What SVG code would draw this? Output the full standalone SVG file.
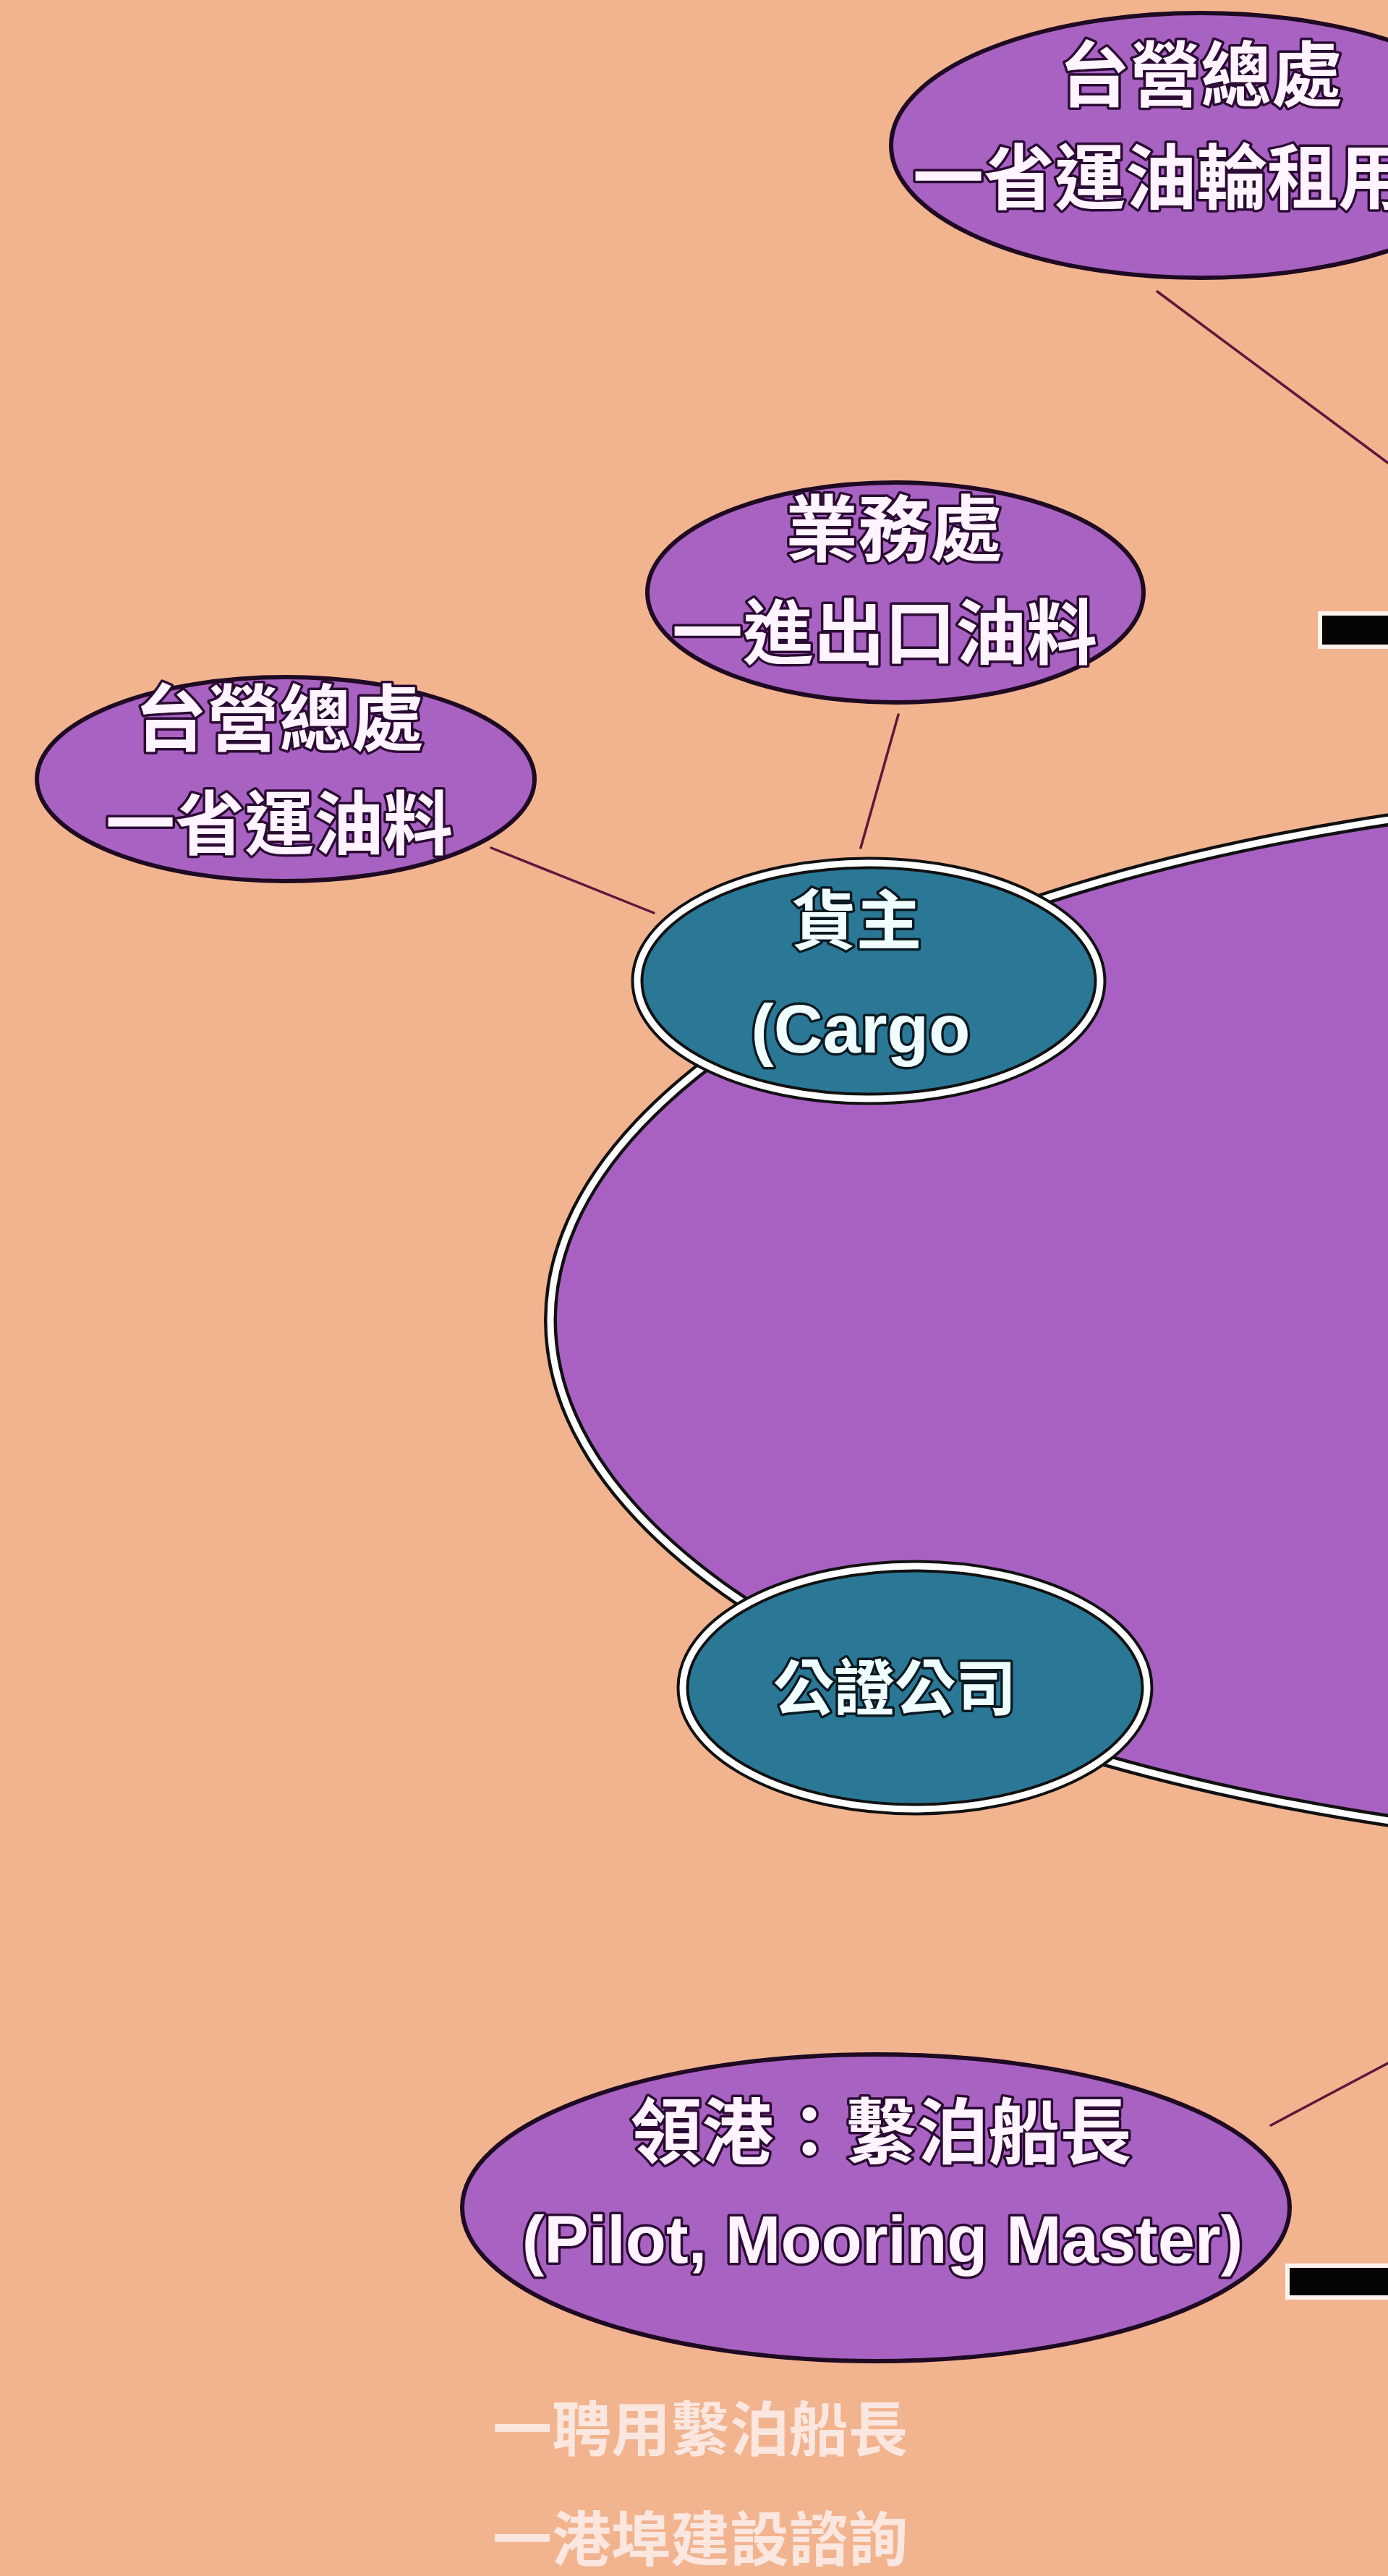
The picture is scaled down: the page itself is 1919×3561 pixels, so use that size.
<svg xmlns="http://www.w3.org/2000/svg" width="1919" height="3561" viewBox="0 0 1919 3561">
<style>
.bg{fill:#F2B38F}
.pnode{fill:#A862C2;stroke:#1E0A22;stroke-width:6}
.tnode{fill:#2A7896;stroke:#111;stroke-width:17}
.ring{fill:none;stroke:#FFFFFF;stroke-width:9}
.big{fill:#A861C2;stroke:#111;stroke-width:18}
.bigring{fill:none;stroke:#FFFFFF;stroke-width:9}
.conn{stroke:#5A1A3A;stroke-width:3.5;fill:none;stroke-linecap:round}
.bar{fill:#050505;stroke:#FFF3EC;stroke-width:6}
.t{font-family:"Liberation Sans","Noto Sans CJK TC",sans-serif;font-weight:bold;fill:#FFF4FF;stroke:#2B0A33;stroke-width:7;paint-order:stroke;stroke-linejoin:round}
.tt{fill:#F0FFFF;stroke:#0A1A22}
.pale{font-family:"Liberation Sans","Noto Sans CJK TC",sans-serif;font-weight:bold;fill:#FCEDE8;opacity:0.9}
</style>
<rect class="bg" x="0" y="0" width="1919" height="3561"/>

<g id="big-ellipse">
<ellipse class="big" cx="2511" cy="1825" rx="1750" ry="735"/>
<ellipse class="bigring" cx="2511" cy="1825" rx="1750" ry="735"/>
</g>

<g id="connectors">
<line class="conn" x1="1600" y1="403" x2="1919" y2="640"/>
<line class="conn" x1="1242" y1="988" x2="1190" y2="1172"/>
<line class="conn" x1="679" y1="1172" x2="904" y2="1262"/>
<line class="conn" x1="1757" y1="2938" x2="1919" y2="2852"/>
</g>

<g id="bar-top"><rect class="bar" x="1825" y="848" width="110" height="46"/></g>
<g id="bar-bottom"><rect class="bar" x="1780" y="3132" width="150" height="44"/></g>

<g id="node-taiwan-tanker">
<ellipse class="pnode" cx="1660" cy="201" rx="428" ry="183"/>
<text class="t" x="1660" y="139" font-size="98" text-anchor="middle">台營總處</text>
<text class="t" x="1262" y="281" font-size="98">一省運油輪租用</text>
</g>

<g id="node-business">
<ellipse class="pnode" cx="1238" cy="819" rx="343" ry="152"/>
<text class="t" x="1236" y="768" font-size="100" text-anchor="middle">業務處</text>
<text class="t" x="1223" y="910" font-size="98" text-anchor="middle">一進出口油料</text>
</g>

<g id="node-taiwan-oil">
<ellipse class="pnode" cx="395" cy="1077" rx="344" ry="141"/>
<text class="t" x="386" y="1030" font-size="100" text-anchor="middle">台營總處</text>
<text class="t" x="386" y="1173" font-size="96" text-anchor="middle">一省運油料</text>
</g>

<g id="node-cargo">
<ellipse class="tnode" cx="1201" cy="1356" rx="320" ry="163"/>
<ellipse class="ring" cx="1201" cy="1356" rx="320" ry="163"/>
<text class="t tt" x="1184" y="1305" font-size="90" text-anchor="middle">貨主</text>
<text class="t tt" x="1190" y="1455" font-size="94" text-anchor="middle">(Cargo</text>
</g>

<g id="node-surveyor">
<ellipse class="tnode" cx="1265" cy="2333" rx="321" ry="168"/>
<ellipse class="ring" cx="1265" cy="2333" rx="321" ry="168"/>
<text class="t tt" x="1237" y="2364" font-size="84" text-anchor="middle">公證公司</text>
</g>

<g id="node-pilot">
<ellipse class="pnode" cx="1211" cy="3052" rx="572" ry="212"/>
<text class="t" x="1218" y="2983" font-size="99" text-anchor="middle">領港：繫泊船長</text>
<text class="t" x="1220" y="3128" font-size="92" text-anchor="middle">(Pilot, Mooring Master)</text>
</g>

<g id="notes">
<text class="pale" x="681" y="3388" font-size="82">一聘用繫泊船長</text>
<text class="pale" x="681" y="3540" font-size="82">一港埠建設諮詢</text>
</g>
</svg>
